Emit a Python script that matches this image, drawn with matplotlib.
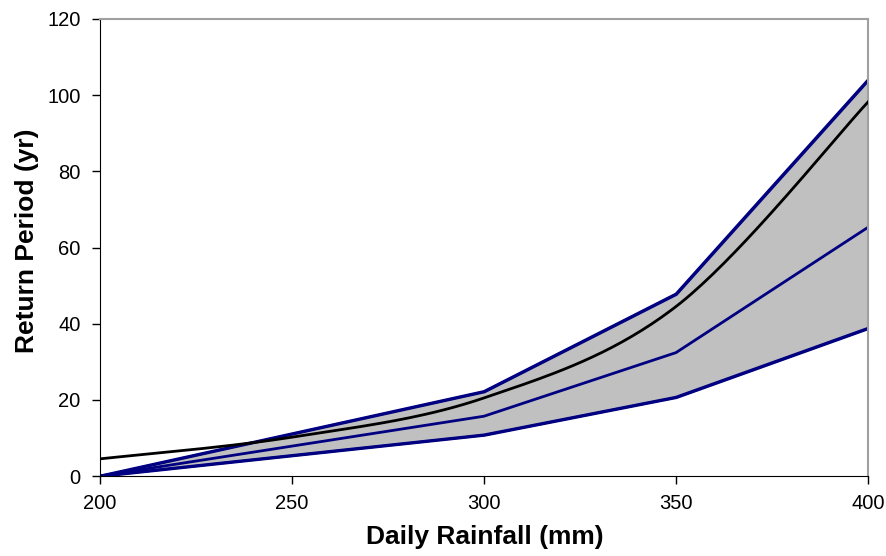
import numpy as np
import matplotlib
matplotlib.use("Agg")
import matplotlib.pyplot as plt

plt.rcParams['font.family'] = ['Liberation Sans', 'DejaVu Sans']

# data
rain = [200, 300, 350, 400]
upper = [0, 22.2, 47.8, 104.0]
middle = [0, 15.7, 32.4, 65.3]
lower = [0, 10.8, 20.7, 38.8]

rain_mean = [200, 250, 300, 350, 400]
mean_rp = [4.5, 10.2, 20.5, 44.5, 98.2]


#excel style smoothed line (bezier through the points)
def smooth(xs, ys, n=40):
	xs = np.asarray(xs, float)
	ys = np.asarray(ys, float)
	px = np.concatenate([[xs[0]], xs, [xs[-1]]])
	py = np.concatenate([[ys[0]], ys, [ys[-1]]])
	outx, outy = [], []
	for i in range(1, len(px) - 2):
		p0 = np.array([px[i], py[i]])
		p3 = np.array([px[i + 1], py[i + 1]])
		c1 = p0 + (np.array([px[i + 1], py[i + 1]]) - np.array([px[i - 1], py[i - 1]])) / 6
		c2 = p3 - (np.array([px[i + 2], py[i + 2]]) - np.array([px[i], py[i]])) / 6
		t = np.linspace(0, 1, n)[:, None]
		pts = (1 - t) ** 3 * p0 + 3 * (1 - t) ** 2 * t * c1 + 3 * (1 - t) * t ** 2 * c2 + t ** 3 * p3
		outx.extend(pts[:, 0])
		outy.extend(pts[:, 1])
	return outx, outy


fig = plt.figure(figsize=(8.87, 5.56), dpi=100)
ax = fig.add_axes([100 / 887, 80 / 556, 768 / 887, 457 / 556])

navy = '#000080'
ax.fill_between(rain, lower, upper, facecolor='#C0C0C0', edgecolor=navy, linewidth=2, zorder=1)
ax.plot(rain, upper, color=navy, lw=2, zorder=2)
ax.plot(rain, middle, color=navy, lw=2, zorder=2)
ax.plot(rain, lower, color=navy, lw=2, zorder=2)
sx, sy = smooth(rain_mean, mean_rp)
ax.plot(sx, sy, color='black', lw=2, zorder=3)

ax.set_xlim(200, 400)
ax.set_ylim(0, 120)
ax.set_xticks([200, 250, 300, 350, 400])
ax.set_yticks([0, 20, 40, 60, 80, 100, 120])
ax.tick_params(direction='out', length=6, width=1, labelsize=14.5, colors='black')
ax.tick_params(axis='x', pad=7)
ax.tick_params(axis='y', pad=8)

ax.spines['top'].set_color('#A0A0A0')
ax.spines['right'].set_color('#A0A0A0')
ax.spines['top'].set_linewidth(1.5)
ax.spines['right'].set_linewidth(1.5)
ax.spines['left'].set_color('black')
ax.spines['bottom'].set_color('black')

ax.set_xlabel('Daily Rainfall (mm)', fontsize=19, fontweight='bold', va='top')
ax.xaxis.set_label_coords(0.5007, -0.108)
ax.set_ylabel('Return Period (yr)', fontsize=19, fontweight='bold', va='center')
ax.yaxis.set_label_coords(-0.0957, 0.515)

plt.savefig('out.png', dpi=100)
